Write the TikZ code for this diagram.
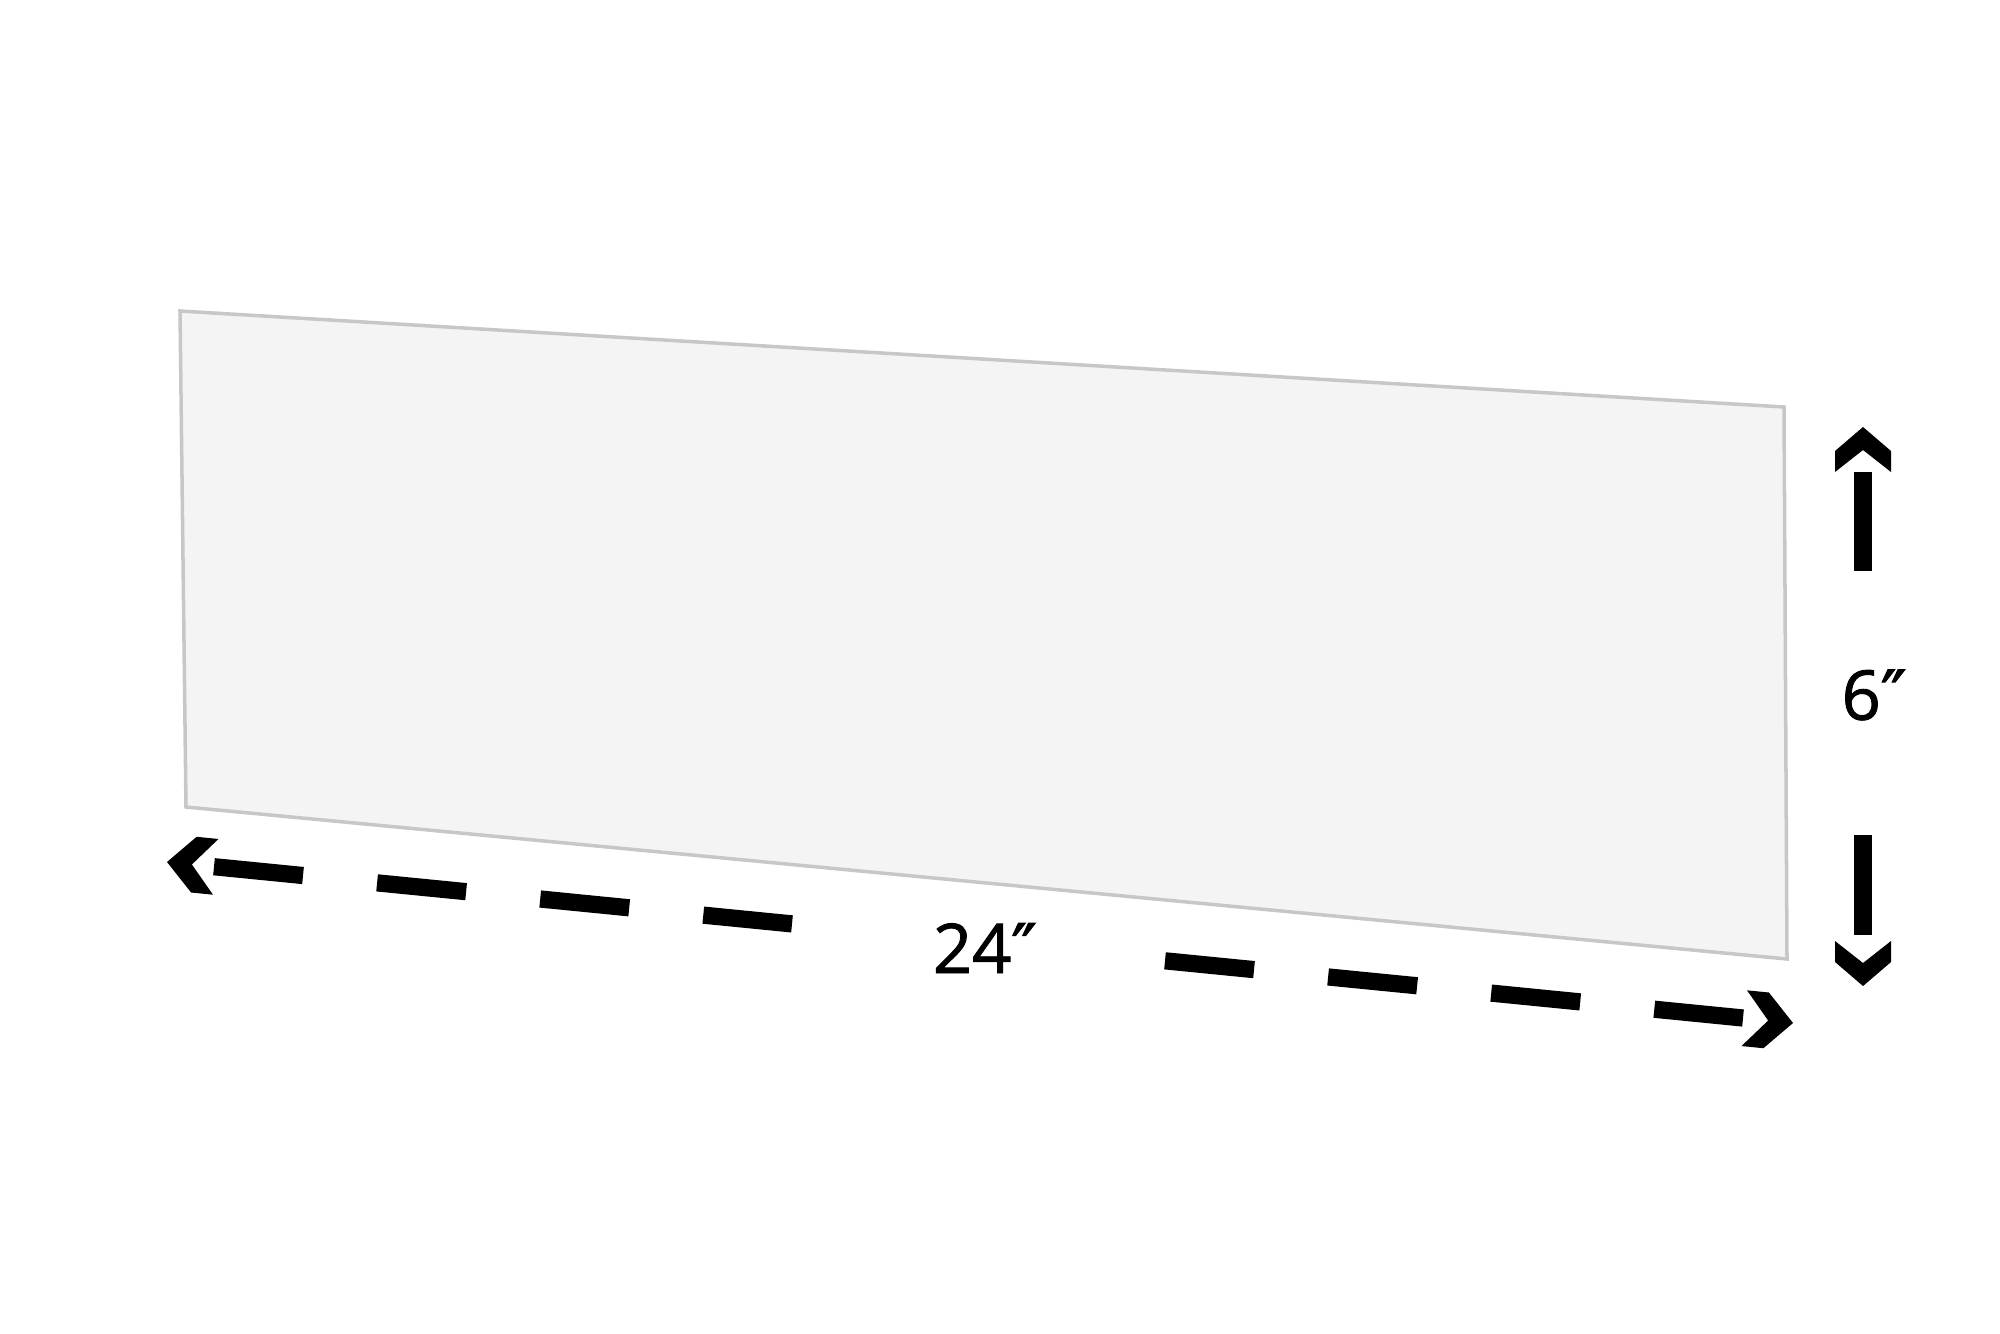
\documentclass[tikz,border=0pt]{standalone}
\usepackage{fontspec}
\setmainfont{Open Sans}
\newfontfamily\labelfont{Open Sans}[FakeBold=1.3]
\newfontfamily\primefont{DejaVu Sans}[FakeBold=1.5]
\begin{document}
\begin{tikzpicture}[x=0.01cm,y=-0.01cm,
  panel/.style={draw=black!22,fill=black!4.5,line width=1pt,line join=miter},
  dimline/.style={line width=4.9pt,line cap=butt,black},
  chevron/.style={fill=black,draw=none},
  dimlabel/.style={font=\labelfont\fontsize{19.5}{23}\selectfont,inner sep=0pt,anchor=center}]
\useasboundingbox (0,0) rectangle (2000,1333);
% panel
\coordinate (tl) at (180,311);
\coordinate (tr) at (1784,407);
\coordinate (br) at (1787,959);
\coordinate (bl) at (186,807);
\draw[panel] (tl) -- (tr) -- (br) -- (bl) -- cycle;
% horizontal dimension
\coordinate (ltip) at (167,862);
\coordinate (rtip) at (1793,1023);
\coordinate (h1s) at (214,866.7);
\coordinate (h1e) at (792,923.9);
\coordinate (h2s) at (1165,960.8);
\coordinate (h2e) at (1743,1018);
\draw[dimline,dash pattern=on 0.894cm off 0.744cm] (h1s) -- (h1e);
\draw[dimline,dash pattern=on 0.894cm off 0.744cm] (h2s) -- (h2e);
\begin{scope}[shift={(ltip)},rotate=-5.65]
  \fill[chevron] (0,0) -- (27,-28) -- (49,-28) -- (25,0) -- (49,28) -- (27,28) -- cycle;
\end{scope}
\begin{scope}[shift={(rtip)},rotate=-5.65]
  \fill[chevron] (0,0) -- (-27,-28) -- (-49,-28) -- (-25,0) -- (-49,28) -- (-27,28) -- cycle;
\end{scope}
\node[dimlabel] (w) at (985,948) {24{\primefont ″}};
% vertical dimension
\coordinate (ttip) at (1863,427);
\coordinate (btip) at (1863,986);
\coordinate (v1s) at (1863,472);
\coordinate (v1e) at (1863,571);
\coordinate (v2s) at (1863,835);
\coordinate (v2e) at (1863,935);
\draw[dimline] (v1s) -- (v1e);
\draw[dimline] (v2s) -- (v2e);
\begin{scope}[shift={(ttip)}]
  \fill[chevron] (0,0) -- (-28,24) -- (-28,45) -- (0,23) -- (28,45) -- (28,24) -- cycle;
\end{scope}
\begin{scope}[shift={(btip)}]
  \fill[chevron] (0,0) -- (-28,-24) -- (-28,-45) -- (0,-23) -- (28,-45) -- (28,-24) -- cycle;
\end{scope}
\node[dimlabel] (h) at (1874,695) {6{\primefont ″}};
\end{tikzpicture}
\end{document}
